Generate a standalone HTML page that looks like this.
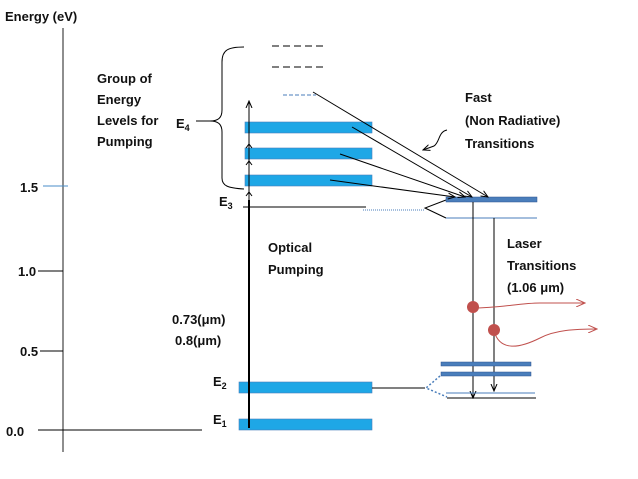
<!DOCTYPE html>
<html><head><style>
body{margin:0;background:#fff}
svg{display:block}
text{font-family:"Liberation Sans",sans-serif;font-weight:bold;font-size:13px;fill:#111}
</style></head><body>
<svg width="638" height="479" viewBox="0 0 638 479">
<defs>
<marker id="a" markerWidth="8" markerHeight="8" refX="7" refY="4" orient="auto" markerUnits="userSpaceOnUse"><path d="M0,1 L7,4 L0,7" fill="none" stroke="#000" stroke-width="1"/></marker>
<marker id="r" markerWidth="10" markerHeight="8" refX="9" refY="4" orient="auto" markerUnits="userSpaceOnUse"><path d="M0,0 L9,4 L0,8" fill="none" stroke="#c0504d" stroke-width="1"/></marker>
</defs>
<text x="5" y="21">Energy (eV)</text>
<line x1="63" y1="28" x2="63" y2="452" stroke="#444" stroke-width="1.2"/>
<line x1="43" y1="186" x2="68" y2="186" stroke="#4a8ec8"/>
<line x1="38" y1="271" x2="63" y2="271" stroke="#000"/>
<line x1="40" y1="351" x2="63" y2="351" stroke="#000"/>
<line x1="38" y1="430" x2="202" y2="430" stroke="#000"/>
<text x="20" y="192" font-size="12">1.5</text>
<text x="18" y="276" font-size="12">1.0</text>
<text x="20" y="356" font-size="12">0.5</text>
<text x="6" y="436" font-size="12">0.0</text>
<text x="97" y="83">Group of</text>
<text x="97" y="104">Energy</text>
<text x="97" y="125">Levels for</text>
<text x="97" y="146">Pumping</text>
<text x="176" y="128">E<tspan font-size="9" dy="3">4</tspan></text>
<line x1="196" y1="121" x2="210" y2="121" stroke="#000"/>
<path d="M244,47 C228,47 222,50 222,62 L222,110 C222,118 218,121 210,121 C218,121 222,124 222,132 L222,178 C222,186 228,188 244,189" fill="none" stroke="#000"/>
<path d="M272,46 H327 M272,67 H327" stroke="#000" stroke-dasharray="7,4"/>
<path d="M283,95 H316" stroke="#4a7ebb" stroke-dasharray="4,2"/>
<rect x="245" y="122" width="127" height="11" fill="#1ea7e6" stroke="#4a7ebb" stroke-width="0.6"/>
<rect x="245" y="148" width="127" height="11" fill="#1ea7e6" stroke="#4a7ebb" stroke-width="0.6"/>
<rect x="245" y="175" width="127" height="11" fill="#1ea7e6" stroke="#4a7ebb" stroke-width="0.6"/>
<rect x="239" y="382" width="133" height="11" fill="#1ea7e6" stroke="#4a7ebb" stroke-width="0.6"/>
<rect x="239" y="419" width="133" height="11" fill="#1ea7e6" stroke="#4a7ebb" stroke-width="0.6"/>
<line x1="249" y1="428" x2="249" y2="200" stroke="#000" stroke-width="2"/>
<line x1="249" y1="200" x2="249" y2="101" stroke="#000" stroke-width="1" marker-end="url(#a)"/>
<path d="M246,148 L249,144 L252,148 M246,165 L249,161 L252,165 M246,196 L249,192 L252,196" fill="none" stroke="#000"/>
<text x="219" y="206">E<tspan font-size="9" dy="3">3</tspan></text>
<line x1="243" y1="207" x2="366" y2="207" stroke="#000"/>
<line x1="363" y1="210" x2="425" y2="210" stroke="#4a7ebb" stroke-dasharray="1,1"/>
<path d="M446,200 L425,208 L446,218" fill="none" stroke="#000"/>
<rect x="446" y="197" width="91" height="5" fill="#4a7ebb" stroke="#2f528f" stroke-width="0.5"/>
<line x1="446" y1="218" x2="537" y2="218" stroke="#4a7ebb"/>
<line x1="313" y1="92" x2="488" y2="197" stroke="#000" marker-end="url(#a)"/>
<line x1="352" y1="127" x2="472" y2="197" stroke="#000" marker-end="url(#a)"/>
<line x1="340" y1="154" x2="465" y2="197" stroke="#000" marker-end="url(#a)"/>
<line x1="330" y1="180" x2="455" y2="197" stroke="#000" marker-end="url(#a)"/>
<path d="M447,130 C438,132 440,142 434,146 L423,150" fill="none" stroke="#000" marker-end="url(#a)"/>
<text x="465" y="102">Fast</text>
<text x="465" y="125">(Non Radiative)</text>
<text x="465" y="148">Transitions</text>
<text x="268" y="252">Optical</text>
<text x="268" y="274">Pumping</text>
<text x="172" y="324">0.73(μm)</text>
<text x="175" y="345">0.8(μm)</text>
<text x="507" y="248">Laser</text>
<text x="507" y="270">Transitions</text>
<text x="507" y="292">(1.06 μm)</text>
<line x1="473" y1="202" x2="473" y2="398" stroke="#000" marker-end="url(#a)"/>
<line x1="494" y1="218" x2="494" y2="391" stroke="#000" marker-end="url(#a)"/>
<path d="M473,308 C500,308 520,303 540,303 L585,303" fill="none" stroke="#c0504d" marker-end="url(#r)"/>
<path d="M494,331 C500,352 520,348 540,338 C555,330 575,329 597,329" fill="none" stroke="#c0504d" marker-end="url(#r)"/>
<circle cx="473" cy="307" r="6" fill="#c0504d"/>
<circle cx="494" cy="330" r="6" fill="#c0504d"/>
<rect x="441" y="362" width="90" height="4" fill="#4a7ebb" stroke="#2f528f" stroke-width="0.5"/>
<rect x="441" y="372" width="90" height="4" fill="#4a7ebb" stroke="#2f528f" stroke-width="0.5"/>
<line x1="446" y1="393" x2="535" y2="393" stroke="#4a7ebb"/>
<line x1="447" y1="398" x2="536" y2="398" stroke="#000"/>
<line x1="372" y1="388" x2="425" y2="388" stroke="#000"/>
<path d="M440,376 L426,388 L447,397" fill="none" stroke="#4a7ebb" stroke-width="1.5" stroke-dasharray="2,2"/>
<text x="213" y="386">E<tspan font-size="9" dy="3">2</tspan></text>
<text x="213" y="424">E<tspan font-size="9" dy="3">1</tspan></text>
</svg>
</body></html>
